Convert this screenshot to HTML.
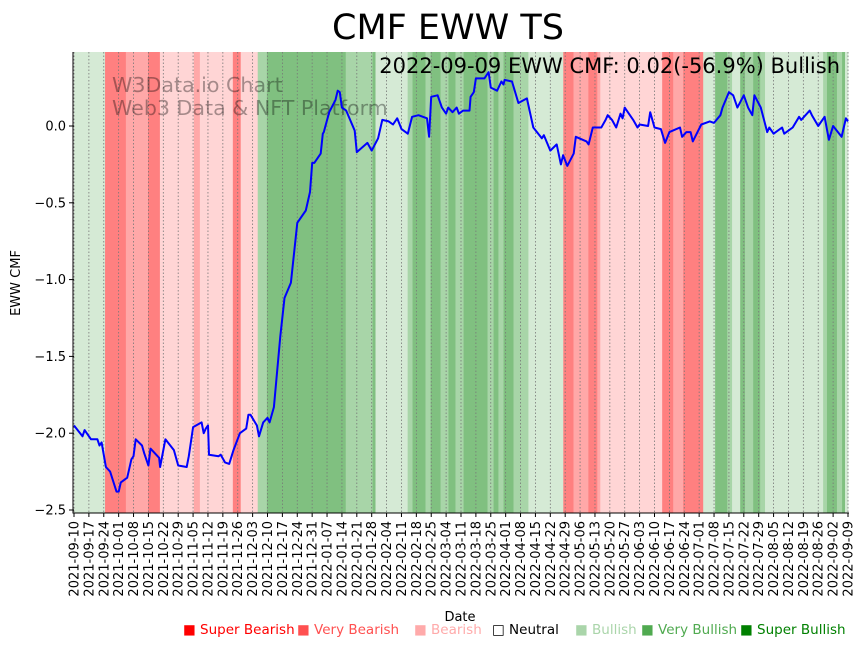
<!DOCTYPE html>
<html><head><meta charset="utf-8"><style>
html,body{margin:0;padding:0;background:#fff;}
svg{display:block;font-family:"DejaVu Sans","Liberation Sans",sans-serif;}
</style></head><body>
<svg id="chart" width="864" height="646" viewBox="0 0 864 646" xmlns="http://www.w3.org/2000/svg">
<text x="448" y="39" font-size="35" text-anchor="middle" fill="#000">CMF EWW TS</text>
<g id="bands"></g>
<g id="grid"></g>
<text x="112" y="92" font-size="20.6" fill="#000" fill-opacity="0.35">W3Data.io Chart</text>
<text x="112" y="115" font-size="20.6" fill="#000" fill-opacity="0.35">Web3 Data &amp; NFT Platform</text>
<path id="line" fill="none" stroke="#0000ff" stroke-width="2" stroke-linejoin="round"/>
<text x="840" y="73" font-size="21" text-anchor="end" fill="#000">2022-09-09 EWW CMF: 0.02(-56.9%) Bullish</text>
<g id="axes"></g>
<text transform="translate(20,283) rotate(-90)" font-size="13" text-anchor="middle">EWW CMF</text>
<text x="460" y="621" font-size="13" text-anchor="middle">Date</text>
<g id="legend"></g>
</svg>
<script>
const days=[0,4,5,8,11,12,13,15,17,20,21,22,25,27,28,29,32,33,35,36,40,40.5,43,47,49,53,54,56,60,61,62,63,63.5,68,69,71,73,75,78,81,82,83,86,87,89,91,92,94,97,99,102,105,109,111,112,113,116,117,117.5,120,123,124,125,126,128,132,133,138,140,143,145,148,150,152,154,157,159,162,166,167,168,171,173,175,176,178,180,181,183,186,186.5,188,189,193,195,196,199,201,202,202.5,206,209,213,216,220,221,224,227,229,230,232,235,236,241,242,244,248,250,251,253,255,257,258,259,263,265,266,270,271,273,276,278,280,285,286,288,290,291,295,299,301,304,305,308,310,312,315,317,319,320,323,326,327,329,333,334,338,341,342,346,347,350,353,355,357,361,363,364];
const cmfValues=[-1.95,-2.02,-1.98,-2.04,-2.04,-2.08,-2.06,-2.22,-2.25,-2.38,-2.38,-2.32,-2.29,-2.17,-2.15,-2.04,-2.08,-2.13,-2.21,-2.10,-2.16,-2.22,-2.04,-2.11,-2.21,-2.22,-2.15,-1.96,-1.93,-2.00,-1.97,-1.95,-2.14,-2.15,-2.14,-2.19,-2.20,-2.11,-2.00,-1.97,-1.88,-1.88,-1.95,-2.02,-1.93,-1.90,-1.93,-1.83,-1.37,-1.12,-1.02,-0.63,-0.55,-0.43,-0.24,-0.24,-0.18,-0.05,-0.04,0.09,0.17,0.23,0.22,0.12,0.10,-0.03,-0.17,-0.11,-0.16,-0.08,0.04,0.03,0.01,0.05,-0.02,-0.05,0.06,0.07,0.05,-0.07,0.19,0.20,0.12,0.08,0.12,0.09,0.12,0.08,0.10,0.10,0.19,0.22,0.31,0.31,0.35,0.25,0.23,0.29,0.27,0.30,0.29,0.15,0.18,-0.01,-0.08,-0.06,-0.16,-0.12,-0.25,-0.19,-0.26,-0.18,-0.07,-0.10,-0.12,-0.01,-0.01,0.04,0.07,0.04,-0.01,0.08,0.05,0.12,0.04,-0.01,0.01,0.00,0.09,-0.01,-0.02,-0.11,-0.04,-0.01,-0.07,-0.04,-0.04,-0.10,0.01,0.03,0.02,0.07,0.12,0.22,0.20,0.12,0.20,0.12,0.07,0.20,0.12,-0.04,-0.01,-0.05,-0.01,-0.05,-0.01,0.06,0.04,0.10,0.07,0.00,0.06,-0.09,0.00,-0.07,0.05,0.03];
const bandStart=[0,14.6,24.4,34.8,40.4,56.4,59.2,74.7,78.4,86.4,90.7,127.8,140.4,141.8,156.9,159.2,165.3,167.7,172.4,176.1,179.4,183.2,194.5,197.3,199.6,202,206.7,213.7,230.1,234.9,241.9,246.1,247.5,276.6,281.8,286.5,295.9,301.5,307.2,309.5,313.3,315.6,319.4,322.7,325,352.3,354.1,358.8,361.2,362.6];
const bandCat=[4,0,1,0,2,1,2,0,2,5,6,5,6,4,5,6,5,6,5,6,5,6,5,6,5,6,5,4,0,1,0,1,2,0,1,0,4,6,5,4,6,5,6,5,4,5,6,5,6,4];
const yTicks=[0,-0.5,-1,-1.5,-2,-2.5];
const yTickLabels=["0.0","\u22120.5","\u22121.0","\u22121.5","\u22122.0","\u22122.5"];
const legendNames=["Super Bearish","Very Bearish","Bearish","Neutral","Bullish","Very Bullish","Super Bullish"];

const NS="http://www.w3.org/2000/svg";
const bandColors=["#ff8080","#ffa8a8","#ffd5d5","#ffffff","#d5ead5","#a8d5a8","#80c080"];
const legendColors=["#ff0000","#ff5050","#ffaaaa","#000000","#aad5aa","#50aa50","#008000"];
const legendX=[183,297,414,492,575,641,740];
const X0=74,X1=848,TOP=52,BOT=513,DMAX=364;
const xs=d=>X0+(d/DMAX)*(X1-X0);
const ys=v=>126+(-v)*153.6;
function mk(tag,attrs,parent){const e=document.createElementNS(NS,tag);for(const k in attrs)e.setAttribute(k,attrs[k]);parent.appendChild(e);return e;}

const gB=document.getElementById('bands');
for(let i=0;i<bandStart.length;i++){
  const s=bandStart[i],e=i+1<bandStart.length?bandStart[i+1]:DMAX;
  const r=mk('rect',{x:xs(s),y:TOP,width:Math.max(0,xs(e)-xs(s))+0.3,height:BOT-TOP,fill:bandColors[bandCat[i]]},gB);
  
  
}
const gG=document.getElementById('grid'),gA=document.getElementById('axes');
const start=new Date(Date.UTC(2021,8,10));
for(let d=0;d<=DMAX;d+=7){
  const x=xs(d);
  const gl=mk('line',{x1:x,x2:x,y1:TOP,y2:BOT,stroke:'#777',"stroke-width":0.8,"stroke-dasharray":"1.5,2"},gG);
  
  
  const tk=mk('line',{x1:x,x2:x,y1:BOT,y2:BOT+4,stroke:'#000',"stroke-width":1},gA);
  
  
  const dt=new Date(start.getTime()+d*86400000);
  const lbl=dt.toISOString().slice(0,10);
  const t=mk('text',{transform:`translate(${x+4.5},${BOT+8}) rotate(-90)`,"font-size":13,"text-anchor":"end"},gA);
  t.textContent=lbl;
  
  
}
yTicks.forEach((v,i)=>{
  const y=ys(v);
  const tk=mk('line',{x1:X0-5,x2:X0,y1:y,y2:y,stroke:'#000',"stroke-width":1},gA);
  
  
  const t=mk('text',{x:X0-8,y:y+4.5,"font-size":13,"text-anchor":"end"},gA);
  t.textContent=yTickLabels[i];
  
  
});
const sp1=mk('line',{x1:X0-1,x2:X0-1,y1:TOP,y2:BOT+0.5,stroke:'#000',"stroke-width":1},gA);


const sp2=mk('line',{x1:X0-1,x2:X1+1,y1:BOT,y2:BOT,stroke:'#000',"stroke-width":1},gA);



let dstr='';
days.forEach((d,i)=>{dstr+=(i?'L':'M')+xs(d).toFixed(1)+','+ys(cmfValues[i]).toFixed(1);});
document.getElementById('line').setAttribute('d',dstr);

const gL=document.getElementById('legend');
legendNames.forEach((n,i)=>{
  const t=mk('text',{x:legendX[i],y:634,"font-size":13.5,fill:legendColors[i]},gL);
  t.textContent=(i===3?'\u25A1 ':'\u25A0 ')+n;
  
  
});
</script>
</body></html>
